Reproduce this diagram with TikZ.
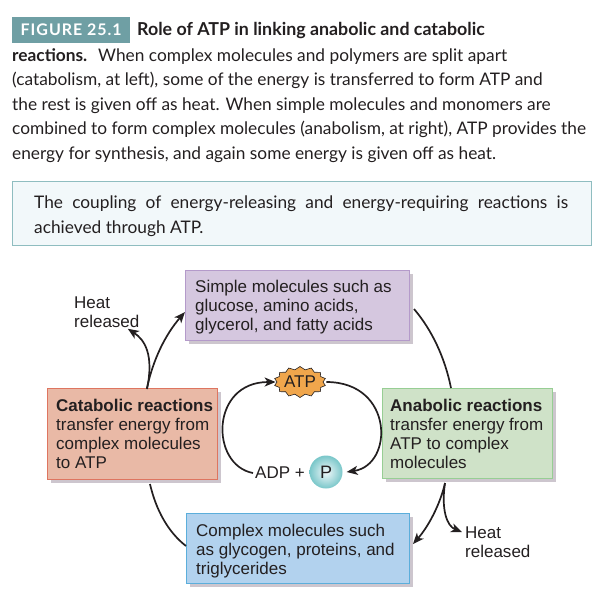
\documentclass[tikz,border=0pt]{standalone}
\usepackage{fontspec}
\setmainfont{Liberation Sans}
\newfontfamily\capfont{Lato}
\usepackage{xcolor}
\usetikzlibrary{arrows.meta,shapes.symbols,shadows}
\definecolor{pteal}{HTML}{6F9FA4}
\definecolor{ptealb}{HTML}{F2F8FA}
\definecolor{ptealv}{HTML}{8FBDC0}
\definecolor{ppurple}{HTML}{D5C7DF}
\definecolor{ppurpled}{HTML}{B49ACA}
\definecolor{psalmon}{HTML}{E9B9A6}
\definecolor{psalmond}{HTML}{DE7560}
\definecolor{pgreen}{HTML}{CFE2C8}
\definecolor{pgreend}{HTML}{97CE94}
\definecolor{pblue}{HTML}{B2D2EE}
\definecolor{pblued}{HTML}{5BAEDB}
\definecolor{porange}{HTML}{F0A64C}
\definecolor{pshadow}{HTML}{CDC6CE}
\definecolor{ink}{HTML}{231F20}
\tikzset{
  % pastel box with an offset grey shadow
  blk/.style = {rectangle, draw=#1d, fill=#1, line width=1pt, inner sep=0pt, outer sep=0pt,
                anchor=north west, drop shadow={shadow xshift=4pt, shadow yshift=-4pt,
                fill=pshadow, opacity=1}},
  lbl/.style = {anchor=north west, inner sep=0pt, align=left, text=ink,
                font=\fontsize{17}{19}\selectfont},
  captxt/.style = {anchor=north west, inner sep=0pt, align=left, text=ink,
                font=\capfont\fontsize{17.3}{24.5}\selectfont},
  lane/.style = {line width=1.7pt, ink},
  arr/.style = {-{Stealth[length=11pt,width=9pt,inset=3pt]}, line width=1.7pt, ink},
}
\begin{document}
\begin{tikzpicture}[x=1pt,y=-1pt]
\useasboundingbox (0,0) rectangle (612,598);
% heading and running text
\node[fill=pteal, minimum width=118pt, minimum height=26pt, inner sep=0pt, anchor=north west,
      text=white, font=\capfont\bfseries\fontsize{16}{19}\selectfont] (tag) at (12,16.5)
      {\addfontfeature{LetterSpace=6}FIGURE 25.1\hspace{6pt}};
\node[captxt, font=\capfont\bfseries\fontsize{17.8}{24.5}\selectfont, anchor=west] (title) at (137,30)
      {Role of ATP in linking anabolic and catabolic};
\node[captxt] (body) at (12,48)
      {\textbf{reactions.}\hspace{5pt} When complex molecules and polymers are split apart\\
       (catabolism, at left), some of the energy is transferred to form ATP and\\
       the rest is given off as heat. When simple molecules and monomers are\\
       combined to form complex molecules (anabolism, at right), ATP provides the\\
       energy for synthesis, and again some energy is given off as heat.};
\node[draw=ptealv, fill=ptealb, line width=1pt, minimum width=579pt, minimum height=64pt,
      inner sep=0pt, anchor=north west] (callout) at (12,181) {};
\node[captxt, align=justify, text width=534pt] (calltext) at (34,196)
      {The coupling of energy-releasing and energy-requiring reactions is achieved through ATP.};

% the four boxes
\node[blk=ppurple, minimum width=224pt, minimum height=70pt] (simple) at (185,270) {};
\node[blk=psalmon, minimum width=170pt, minimum height=91pt] (cata) at (47,388) {};
\node[blk=pgreen,  minimum width=170pt, minimum height=90pt] (ana) at (382,388) {};
\node[blk=pblue,   minimum width=223pt, minimum height=70pt] (complex) at (186,513) {};

\node[lbl] (simpletext) at (195,279.5)
      {Simple molecules such as\\glucose, amino acids,\\glycerol, and fatty acids};
\node[lbl] (catatext) at (56,399)
      {\textbf{Catabolic reactions}\\transfer energy from\\complex molecules\\to ATP};
\node[lbl] (anatext) at (390,399)
      {\textbf{Anabolic reactions}\\transfer energy from\\ATP to complex\\molecules};
\node[lbl] (complextext) at (196,523.5)
      {Complex molecules such\\as glycogen, proteins, and\\triglycerides};
\node[lbl] (heatl) at (74,296.5) {Heat\\released};
\node[lbl] (heatr) at (465,526.5) {Heat\\released};

\node[starburst, starburst points=14, starburst point height=3pt, random starburst=0,
      draw=ink, fill=porange, line width=.6pt, minimum width=52pt, minimum height=31pt,
      inner sep=0pt, text=ink, font=\fontsize{17}{19}\selectfont] (atp) at (300,382) {ATP};
\node[circle, minimum size=33pt, inner sep=0pt, text=ink, font=\fontsize{18}{19}\selectfont,
      inner color=ptealb, outer color=ptealv!85!cyan] (pi) at (326,472) {P};
\node[inner sep=0pt, text=ink, font=\fontsize{17}{19}\selectfont, anchor=east] (adp) at (305,473) {ADP +};

% outer cycle
\coordinate (caout) at ([xshift=15pt]cata.north);
\coordinate (anout) at ([xshift=-22pt,yshift=-5pt]ana.south);
\draw[arr] (caout) .. controls (153,360) and (165,335) .. ([yshift=-7pt]simple.west);
\draw[arr] ([yshift=-1pt]caout) .. controls (154,355) and (145,340) .. ([xshift=21pt,yshift=-1pt]heatl.south);
\draw[lane] ([xshift=5pt,yshift=-4pt]simple.east) .. controls (432,330) and (445,358) .. ([xshift=-16pt]ana.north);
\draw[arr] (anout) .. controls (440,505) and (428,527) .. ([xshift=4pt,yshift=4pt]complex.east);
\draw[arr] (anout) .. controls (441,510) and (447,526) .. ([xshift=-3pt,yshift=10pt]heatr.west);
\draw[lane] ([yshift=2pt]complex.west) .. controls (168,532) and (156,510) .. ([xshift=18pt,yshift=-5pt]cata.south);

% inner cycle
\draw[arr] ([xshift=-2pt]adp.west) .. controls (210,465) and (210,382) .. ([xshift=-1pt]atp.west);
\draw[arr] ([xshift=3pt]atp.east) .. controls (394,382) and (394,465) .. ([xshift=4pt]pi.east);
\end{tikzpicture}
\end{document}
